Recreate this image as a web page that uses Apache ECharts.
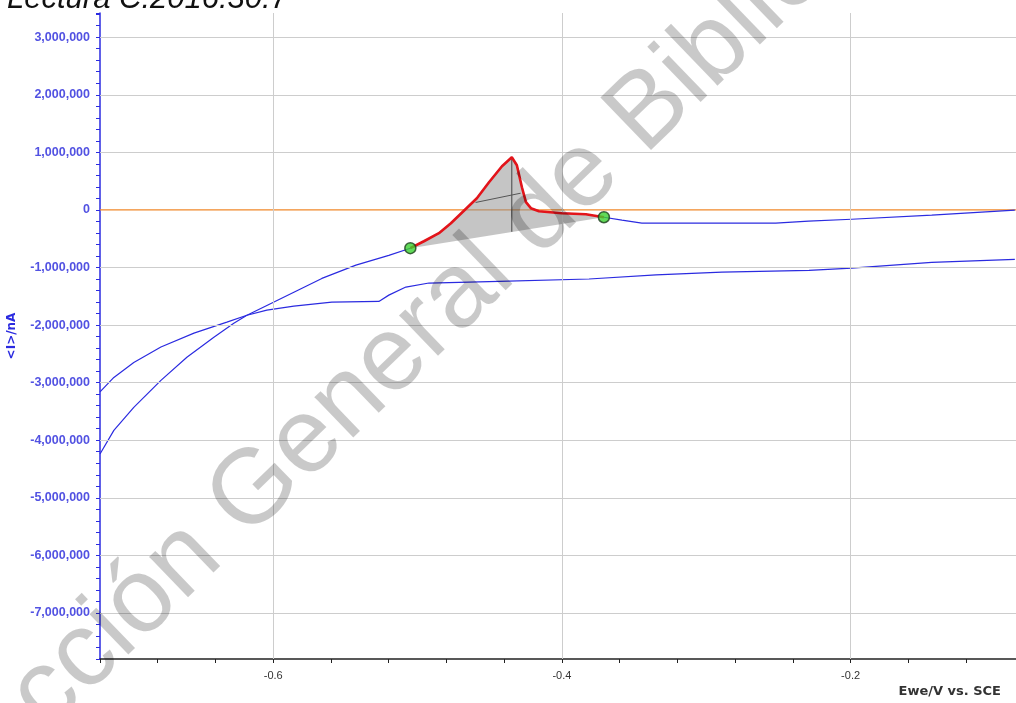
<!DOCTYPE html>
<html>
<head>
<meta charset="utf-8">
<title>Lectura C:2016:30:7</title>
<script src="https://cdn.jsdelivr.net/npm/echarts@6/dist/echarts.min.js"></script>
<style>
html, body { margin: 0; padding: 0; background: #fff; }
#chart { width: 1016px; height: 703px; }
</style>
</head>
<body>
<div id="chart"></div>
<script>
// Ewe (V) , <I> (nA)
const sweepA = [
  [-0.72, -4240000], [-0.7104, -3830000], [-0.6966, -3430000], [-0.6778, -2960000],
  [-0.6598, -2560000], [-0.6411, -2210000], [-0.6273, -1970000], [-0.6182, -1830000],
  [-0.6044, -1660000], [-0.5857, -1430000], [-0.5663, -1190000], [-0.5427, -960000],
  [-0.5199, -790000], [-0.505, -665000]
]
// integrated peak (red), between the two green points
const peak = [
  [-0.505, -665000], [-0.4956, -544000], [-0.4852, -405000], [-0.4769, -231000],
  [-0.4679, -14000], [-0.4589, 203000], [-0.4505, 481000], [-0.4415, 759000],
  [-0.4347, 915000], [-0.4312, 776000], [-0.4277, 394000], [-0.4249, 134000],
  [-0.4215, 30000], [-0.4159, -23000], [-0.40, -57000], [-0.3834, -75000],
  [-0.3709, -127000]
]
const sweepATail = [
  [-0.3709, -127000], [-0.3584, -179000], [-0.3446, -231000], [-0.3051, -231000],
  [-0.2519, -231000], [-0.2291, -196000], [-0.1993, -162000], [-0.1438, -92000],
  [-0.0862, -5000]
]
const sweepB = [
  [-0.72, -3160000], [-0.7104, -2910000], [-0.6966, -2650000], [-0.6778, -2380000],
  [-0.6549, -2140000], [-0.6321, -1950000], [-0.6182, -1830000], [-0.6044, -1740000],
  [-0.5857, -1670000], [-0.5594, -1600000], [-0.5268, -1590000], [-0.5199, -1480000],
  [-0.5081, -1340000], [-0.4921, -1270000], [-0.4436, -1240000], [-0.3812, -1200000],
  [-0.3348, -1130000], [-0.2891, -1080000], [-0.2288, -1050000], [-0.1993, -1010000],
  [-0.1438, -910000], [-0.0862, -860000]
]
const greenPoints = [[-0.505, -665000], [-0.3709, -127000]]
const peakHeight = [[-0.4347, 915000], [-0.4347, -380000]]
const halfWidth = [[-0.4598, 129000], [-0.4286, 290000]]
const zeroLine = [[-0.72, 0], [-0.0854, 0]]

const xGrid = [-0.6, -0.4, -0.2]
const yGrid = [3000000, 2000000, 1000000, -1000000, -2000000, -3000000, -4000000, -5000000, -6000000, -7000000]

const myChart = echarts.init(document.getElementById('chart'))

const blue = '#2b2be0'

const option = {
  animation: false,
  backgroundColor: '#fff',
  grid: { left: 100, right: 0, top: 13, bottom: 44, outerBoundsMode: 'none' },
  xAxis: {
    type: 'value',
    min: -0.72,
    max: -0.0854,
    interval: 0.04,
    name: 'Ewe/V vs. SCE',
    nameLocation: 'end',
    nameGap: -15,
    nameTextStyle: {
      fontFamily: 'DejaVu Sans', fontWeight: 'bold', fontSize: 13, color: '#333',
      align: 'right', verticalAlign: 'top', padding: [26, 0, 0, 0]
    },
    axisLine: { onZero: false, lineStyle: { color: '#222', width: 1.5 } },
    axisTick: { length: 4, lineStyle: { color: '#222' } },
    axisLabel: {
      margin: 11,
      fontFamily: 'Liberation Sans', fontSize: 11, color: '#333',
      formatter: function (v) {
        const k = v / 0.2
        return Math.abs(k - Math.round(k)) < 1e-6 ? (Math.round(k) * 0.2).toFixed(1) : ''
      }
    },
    splitLine: { show: false }
  },
  yAxis: {
    type: 'value',
    min: -7800000,
    max: 3420000,
    interval: 200000,
    name: '<I>/nA',
    nameLocation: 'middle',
    nameGap: 82,
    nameTextStyle: { fontFamily: 'DejaVu Sans', fontWeight: 'bold', fontSize: 12, color: blue },
    axisLine: { onZero: false, lineStyle: { color: blue, width: 1.5 } },
    axisTick: { length: 4, lineStyle: { color: blue } },
    axisLabel: {
      margin: 10,
      fontFamily: 'Liberation Sans', fontWeight: 'bold', fontSize: 12.5, color: '#5252e2',
      formatter: function (v) {
        const r = Math.round(v)
        if (r % 1000000 !== 0) return ''
        return r === 0 ? '0' : r.toLocaleString('en-US')
      }
    },
    splitLine: { show: false }
  },
  graphic: [
    {
      type: 'text', x: 7, y: 15, z: 100,
      style: {
        text: 'Lectura C:2016:30:7', fontFamily: 'Liberation Sans', fontStyle: 'italic',
        fontSize: 31, fill: '#111', verticalAlign: 'bottom'
      }
    },
    {
      type: 'text', x: 440, y: 313, rotation: 0.768, z: 100, silent: true,
      style: {
        text: 'Dirección General de Bibliotecas', fontFamily: 'Liberation Sans',
        fontSize: 106, fill: 'rgba(0,0,0,0.21)', align: 'center', verticalAlign: 'middle'
      }
    }
  ],
  series: [
    {
      type: 'line', z: 1, data: zeroLine, symbol: 'none',
      lineStyle: { color: '#f0882a', width: 1.3 },
      markLine: {
        silent: true, symbol: 'none', label: { show: false },
        lineStyle: { color: '#cdcdcd', type: 'solid', width: 1 },
        data: xGrid.map(v => ({ xAxis: v })).concat(yGrid.map(v => ({ yAxis: v })))
      }
    },
    {
      type: 'custom', z: 2, data: peak,
      encode: { x: 0, y: 1 },
      renderItem: function (params, api) {
        if (params.dataIndex !== 0) return
        const pts = peak.map(p => api.coord(p))
        return { type: 'polygon', shape: { points: pts }, style: { fill: 'rgba(150,150,150,0.55)' } }
      }
    },
    { type: 'line', z: 3, data: sweepB, symbol: 'none', lineStyle: { color: blue, width: 1.2 } },
    { type: 'line', z: 3, data: sweepA.concat(peak, sweepATail), symbol: 'none', lineStyle: { color: blue, width: 1.2 } },
    { type: 'line', z: 4, data: peakHeight, symbol: 'none', lineStyle: { color: '#444', width: 1 } },
    { type: 'line', z: 4, data: halfWidth, symbol: 'none', lineStyle: { color: '#555', width: 1 } },
    { type: 'line', z: 5, data: peak, symbol: 'none', lineStyle: { color: '#e3141a', width: 2.6 } },
    {
      type: 'scatter', z: 6, data: greenPoints, symbolSize: 11,
      itemStyle: { color: '#3bd130', borderColor: '#1c3d1c', borderWidth: 1.5 }
    }
  ]
}

myChart.setOption(option)
</script>
</body>
</html>
